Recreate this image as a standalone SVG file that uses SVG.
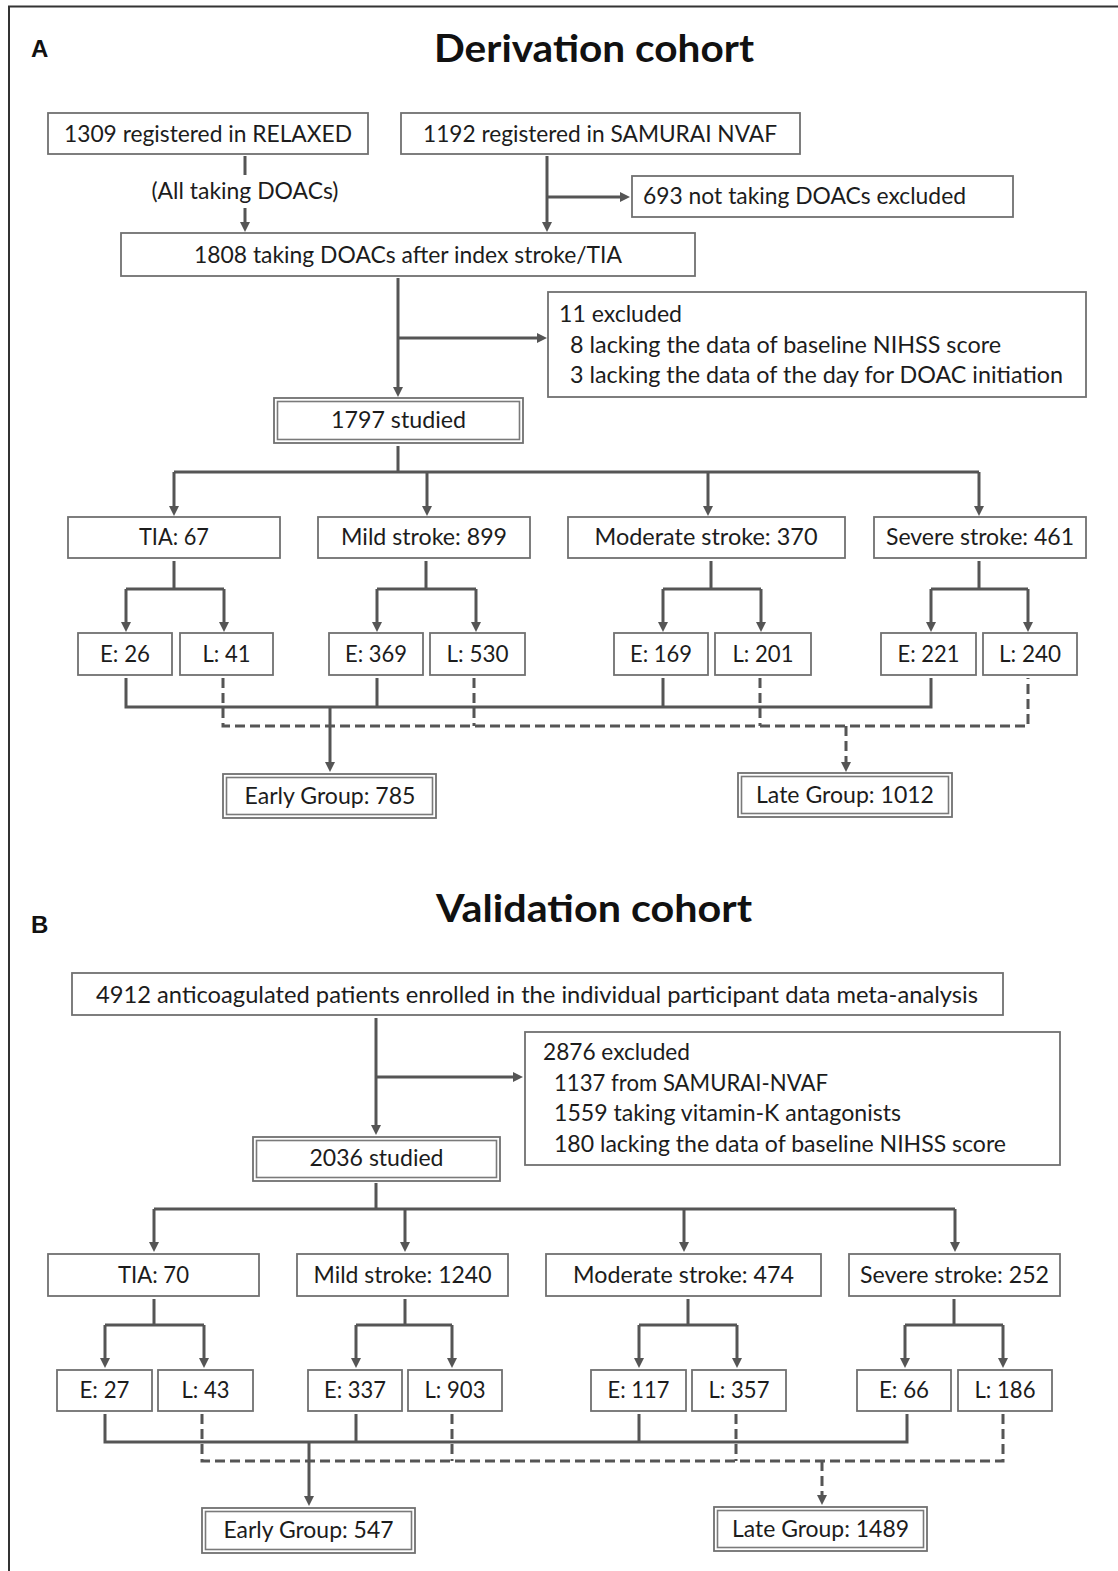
<svg xmlns="http://www.w3.org/2000/svg" width="1118" height="1571" viewBox="0 0 1118 1571">
<style>
.bx{fill:#fff;stroke:#707070;stroke-width:1.8}
.bi{fill:none;stroke:#7a7a7a;stroke-width:1.6}
.t{font-family:Lato,"Open Sans",sans-serif;font-size:23px;fill:#1c1c1c;text-anchor:middle}
.ts{font-family:Lato,"Open Sans",sans-serif;font-size:23px;fill:#1c1c1c}
.h{font-family:Lato,"Open Sans",sans-serif;font-size:38px;font-weight:bold;fill:#111;text-anchor:middle}
.p{font-family:"Liberation Sans",Arial,sans-serif;font-size:24px;font-weight:bold;fill:#111}
.c{stroke:#555;stroke-width:3;fill:none}
.a{stroke:#555;stroke-width:3;fill:none;marker-end:url(#ah)}
.d{stroke-dasharray:10 5}
</style>
<defs>
<marker id="ah" markerUnits="userSpaceOnUse" markerWidth="10" markerHeight="10" refX="6" refY="5" orient="auto" viewBox="0 0 10 10">
<path d="M0,0 L10,5 L0,10 z" fill="#555"/>
</marker>
</defs>
<rect width="1118" height="1571" fill="#fff"/>
<path d="M9,1571 V6.5 H1118" fill="none" stroke="#333" stroke-width="2"/>

<text class="p" x="31" y="57">A</text>
<text class="h" x="594" y="62" textLength="320" lengthAdjust="spacingAndGlyphs">Derivation cohort</text>
<text class="p" x="31" y="933">B</text>
<text class="h" x="594" y="922" textLength="316" lengthAdjust="spacingAndGlyphs">Validation cohort</text>

<g id="connectors">
<path class="c" d="M245,156 V175"/>
<path class="a" d="M245,208 V228"/>
<path class="a" d="M547,156 V228"/>
<path class="a" d="M547,197 H626"/>
<path class="a" d="M398,278 V393"/>
<path class="a" d="M398,338 H543"/>
<path class="c" d="M398,446 V472 M174,472 H979"/>
<path class="a" d="M174,472 V512"/>
<path class="a" d="M427,472 V512"/>
<path class="a" d="M708,472 V512"/>
<path class="a" d="M979,472 V512"/>
<path class="c" d="M174,561 V589 M126,589 H224 M426,561 V589 M377,589 H476 M711,561 V589 M663,589 H761 M979,561 V589 M931,589 H1028"/>
<path class="a" d="M126,589 V628"/><path class="a" d="M224,589 V628"/>
<path class="a" d="M377,589 V628"/><path class="a" d="M476,589 V628"/>
<path class="a" d="M663,589 V628"/><path class="a" d="M761,589 V628"/>
<path class="a" d="M931,589 V628"/><path class="a" d="M1028,589 V628"/>
<path class="c" d="M126,678 V707 H931 V678 M377,678 V707 M663,678 V707"/>
<path class="a" d="M330,707 V768"/>
<path class="c d" d="M223,678 V726 H1028 V678 M474,678 V726 M760,678 V726"/>
<path class="a d" d="M846,726 V768"/>

<path class="a" d="M376,1018 V1131"/>
<path class="a" d="M376,1077 H519"/>
<path class="c" d="M376,1183 V1209 M154,1209 H955"/>
<path class="a" d="M154,1209 V1248"/><path class="a" d="M405,1209 V1248"/>
<path class="a" d="M684,1209 V1248"/><path class="a" d="M955,1209 V1248"/>
<path class="c" d="M154,1299 V1325 M105,1325 H204 M405,1299 V1325 M356,1325 H452 M688,1299 V1325 M639,1325 H737 M954,1299 V1325 M905,1325 H1003"/>
<path class="a" d="M105,1325 V1364"/><path class="a" d="M204,1325 V1364"/>
<path class="a" d="M356,1325 V1364"/><path class="a" d="M452,1325 V1364"/>
<path class="a" d="M639,1325 V1364"/><path class="a" d="M737,1325 V1364"/>
<path class="a" d="M905,1325 V1364"/><path class="a" d="M1003,1325 V1364"/>
<path class="c" d="M105,1414 V1442 H907 V1414 M356,1414 V1442 M639,1414 V1442"/>
<path class="a" d="M309,1442 V1502"/>
<path class="c d" d="M202,1414 V1461 H1003 V1414 M452,1414 V1461 M736,1414 V1461"/>
<path class="a d" d="M822,1461 V1501"/>
</g>

<g id="a-relaxed"><rect class="bx" x="48" y="113" width="320" height="41"/><text class="t" x="208" y="142" textLength="288" lengthAdjust="spacingAndGlyphs">1309 registered in RELAXED</text></g>
<g id="a-samurai"><rect class="bx" x="401" y="113" width="399" height="41"/><text class="t" x="600" y="142" textLength="354" lengthAdjust="spacingAndGlyphs">1192 registered in SAMURAI NVAF</text></g>
<text class="t" x="245" y="199" textLength="187" lengthAdjust="spacingAndGlyphs">(All taking DOACs)</text>
<g id="a-excl693"><rect class="bx" x="632" y="176" width="381" height="41"/><text class="ts" x="643" y="204" textLength="323" lengthAdjust="spacingAndGlyphs">693 not taking DOACs excluded</text></g>
<g id="a-1808"><rect class="bx" x="121" y="233" width="574" height="43"/><text class="t" x="408" y="263" textLength="428" lengthAdjust="spacingAndGlyphs">1808 taking DOACs after index stroke/TIA</text></g>
<g id="a-excl11"><rect class="bx" x="548" y="292" width="538" height="105"/>
<text class="ts" x="559" y="322" textLength="123" lengthAdjust="spacingAndGlyphs">11 excluded</text>
<text class="ts" x="570" y="353" textLength="431" lengthAdjust="spacingAndGlyphs">8 lacking the data of baseline NIHSS score</text>
<text class="ts" x="570" y="383" textLength="493" lengthAdjust="spacingAndGlyphs">3 lacking the data of the day for DOAC initiation</text></g>
<g id="a-1797"><rect class="bx" x="274" y="398" width="249" height="45"/><rect class="bi" x="277.5" y="401.5" width="242" height="38"/><text class="t" x="398.5" y="428" textLength="135" lengthAdjust="spacingAndGlyphs">1797 studied</text></g>

<g id="a-tia"><rect class="bx" x="68" y="517" width="212" height="41"/><text class="t" x="174" y="545" textLength="70" lengthAdjust="spacingAndGlyphs">TIA: 67</text></g>
<g id="a-mild"><rect class="bx" x="318" y="517" width="212" height="41"/><text class="t" x="424" y="545" textLength="166" lengthAdjust="spacingAndGlyphs">Mild stroke: 899</text></g>
<g id="a-moderate"><rect class="bx" x="568" y="517" width="277" height="41"/><text class="t" x="706" y="545" textLength="223" lengthAdjust="spacingAndGlyphs">Moderate stroke: 370</text></g>
<g id="a-severe"><rect class="bx" x="874" y="517" width="212" height="41"/><text class="t" x="980" y="545" textLength="188" lengthAdjust="spacingAndGlyphs">Severe stroke: 461</text></g>

<g id="a-e26"><rect class="bx" x="78" y="633" width="94" height="42"/><text class="t" x="125" y="662" textLength="50" lengthAdjust="spacingAndGlyphs">E: 26</text></g>
<g id="a-l41"><rect class="bx" x="180" y="633" width="93" height="42"/><text class="t" x="226.5" y="662" textLength="48" lengthAdjust="spacingAndGlyphs">L: 41</text></g>
<g id="a-e369"><rect class="bx" x="329" y="633" width="94" height="42"/><text class="t" x="376" y="662" textLength="62" lengthAdjust="spacingAndGlyphs">E: 369</text></g>
<g id="a-l530"><rect class="bx" x="430" y="633" width="95" height="42"/><text class="t" x="477.5" y="662" textLength="62" lengthAdjust="spacingAndGlyphs">L: 530</text></g>
<g id="a-e169"><rect class="bx" x="614" y="633" width="94" height="42"/><text class="t" x="661" y="662" textLength="62" lengthAdjust="spacingAndGlyphs">E: 169</text></g>
<g id="a-l201"><rect class="bx" x="715" y="633" width="96" height="42"/><text class="t" x="763" y="662" textLength="61" lengthAdjust="spacingAndGlyphs">L: 201</text></g>
<g id="a-e221"><rect class="bx" x="881" y="633" width="95" height="42"/><text class="t" x="928.5" y="662" textLength="62" lengthAdjust="spacingAndGlyphs">E: 221</text></g>
<g id="a-l240"><rect class="bx" x="983" y="633" width="94" height="42"/><text class="t" x="1030" y="662" textLength="62" lengthAdjust="spacingAndGlyphs">L: 240</text></g>

<g id="a-early"><rect class="bx" x="223" y="774" width="213" height="44"/><rect class="bi" x="226.5" y="777.5" width="206" height="37"/><text class="t" x="330" y="804" textLength="171" lengthAdjust="spacingAndGlyphs">Early Group: 785</text></g>
<g id="a-late"><rect class="bx" x="738" y="773" width="214" height="44"/><rect class="bi" x="741.5" y="776.5" width="207" height="37"/><text class="t" x="845" y="803" textLength="178" lengthAdjust="spacingAndGlyphs">Late Group: 1012</text></g>

<g id="b-4912"><rect class="bx" x="72" y="973" width="931" height="42"/><text class="t" x="537" y="1003" textLength="882" lengthAdjust="spacingAndGlyphs">4912 anticoagulated patients enrolled in the individual participant data meta-analysis</text></g>
<g id="b-excl2876"><rect class="bx" x="525" y="1032" width="535" height="133"/>
<text class="ts" x="543" y="1060" textLength="147" lengthAdjust="spacingAndGlyphs">2876 excluded</text>
<text class="ts" x="554" y="1091" textLength="274" lengthAdjust="spacingAndGlyphs">1137 from SAMURAI-NVAF</text>
<text class="ts" x="554" y="1121" textLength="347" lengthAdjust="spacingAndGlyphs">1559 taking vitamin-K antagonists</text>
<text class="ts" x="554" y="1152" textLength="452" lengthAdjust="spacingAndGlyphs">180 lacking the data of baseline NIHSS score</text></g>
<g id="b-2036"><rect class="bx" x="253" y="1137" width="247" height="44"/><rect class="bi" x="256.5" y="1140.5" width="240" height="37"/><text class="t" x="376.5" y="1166" textLength="134" lengthAdjust="spacingAndGlyphs">2036 studied</text></g>

<g id="b-tia"><rect class="bx" x="48" y="1254" width="211" height="42"/><text class="t" x="153.5" y="1283" textLength="71" lengthAdjust="spacingAndGlyphs">TIA: 70</text></g>
<g id="b-mild"><rect class="bx" x="297" y="1254" width="211" height="42"/><text class="t" x="402.5" y="1283" textLength="178" lengthAdjust="spacingAndGlyphs">Mild stroke: 1240</text></g>
<g id="b-moderate"><rect class="bx" x="546" y="1254" width="275" height="42"/><text class="t" x="683.5" y="1283" textLength="221" lengthAdjust="spacingAndGlyphs">Moderate stroke: 474</text></g>
<g id="b-severe"><rect class="bx" x="849" y="1254" width="211" height="42"/><text class="t" x="954.5" y="1283" textLength="189" lengthAdjust="spacingAndGlyphs">Severe stroke: 252</text></g>

<g id="b-e27"><rect class="bx" x="57" y="1370" width="95" height="41"/><text class="t" x="104.5" y="1398" textLength="50" lengthAdjust="spacingAndGlyphs">E: 27</text></g>
<g id="b-l43"><rect class="bx" x="158" y="1370" width="95" height="41"/><text class="t" x="205.5" y="1398" textLength="48" lengthAdjust="spacingAndGlyphs">L: 43</text></g>
<g id="b-e337"><rect class="bx" x="308" y="1370" width="94" height="41"/><text class="t" x="355" y="1398" textLength="62" lengthAdjust="spacingAndGlyphs">E: 337</text></g>
<g id="b-l903"><rect class="bx" x="408" y="1370" width="94" height="41"/><text class="t" x="455" y="1398" textLength="61" lengthAdjust="spacingAndGlyphs">L: 903</text></g>
<g id="b-e117"><rect class="bx" x="591" y="1370" width="95" height="41"/><text class="t" x="638.5" y="1398" textLength="62" lengthAdjust="spacingAndGlyphs">E: 117</text></g>
<g id="b-l357"><rect class="bx" x="692" y="1370" width="94" height="41"/><text class="t" x="739" y="1398" textLength="61" lengthAdjust="spacingAndGlyphs">L: 357</text></g>
<g id="b-e66"><rect class="bx" x="857" y="1370" width="94" height="41"/><text class="t" x="904" y="1398" textLength="50" lengthAdjust="spacingAndGlyphs">E: 66</text></g>
<g id="b-l186"><rect class="bx" x="958" y="1370" width="94" height="41"/><text class="t" x="1005" y="1398" textLength="61" lengthAdjust="spacingAndGlyphs">L: 186</text></g>

<g id="b-early"><rect class="bx" x="202" y="1508" width="213" height="45"/><rect class="bi" x="205.5" y="1511.5" width="206" height="38"/><text class="t" x="308.5" y="1538" textLength="170" lengthAdjust="spacingAndGlyphs">Early Group: 547</text></g>
<g id="b-late"><rect class="bx" x="714" y="1507" width="213" height="44"/><rect class="bi" x="717.5" y="1510.5" width="206" height="37"/><text class="t" x="820.5" y="1537" textLength="177" lengthAdjust="spacingAndGlyphs">Late Group: 1489</text></g>
</svg>
